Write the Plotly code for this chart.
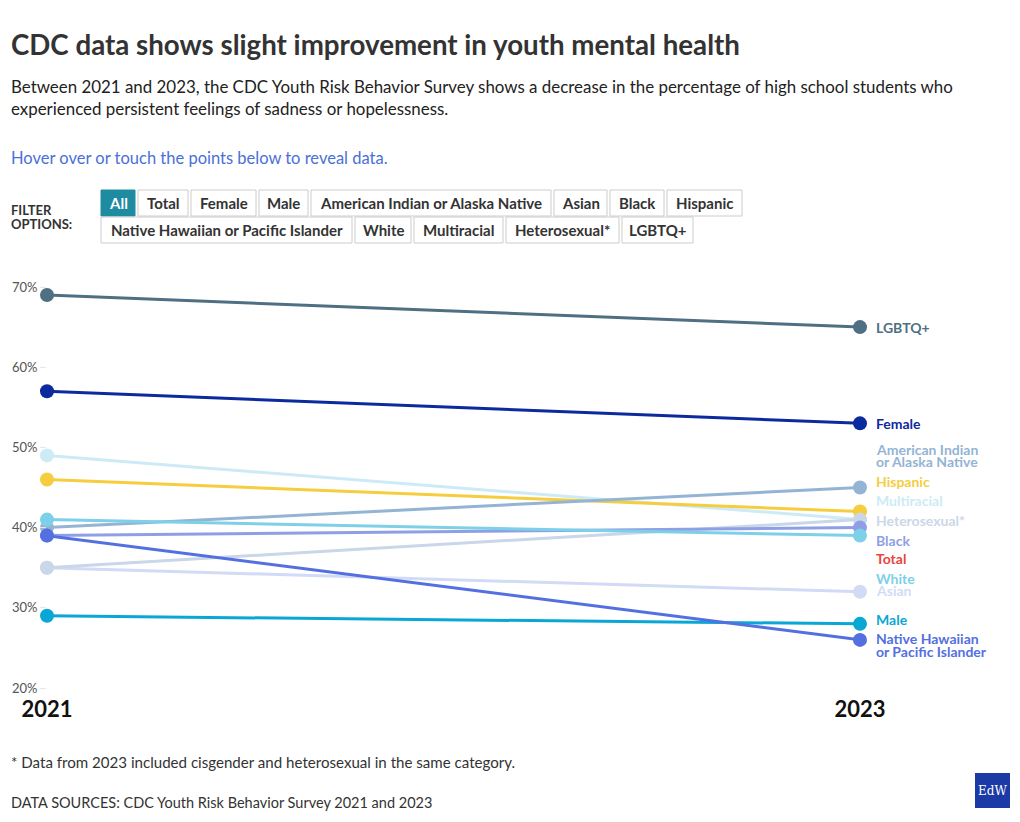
import plotly.graph_objects as go

years = [2021, 2023]
groups = ["LGBTQ+", "Female", "Multiracial", "Hispanic", "American Indian or Alaska Native",
          "Asian", "Heterosexual*", "Male", "Black", "White", "Native Hawaiian or Pacific Islander"]
v2021 = [69, 57, 49, 46, 40, 35, 35, 29, 39, 41, 39]
v2023 = [65, 53, 41, 42, 45, 32, 41, 28, 40, 39, 26]
colors = ["#4f6f82", "#0b2a9e", "#cdebf6", "#f5cd3f", "#94b4d4", "#d2dbf6", "#c9d7e8",
          "#0aa7d4", "#8e9fe6", "#7dd0e8", "#5470e0"]

total_label = "Total"
total_color = "#e8463c"

y_ticks = [20, 30, 40, 50, 60, 70]
y_ticktext = ["20%", "30%", "40%", "50%", "60%", "70%"]

# right-hand label layout: (text line, colour key, y position in data units)
label_lines = [
    ("LGBTQ+", "LGBTQ+", 65.0),
    ("Female", "Female", 53.0),
    ("American Indian", "American Indian or Alaska Native", 49.8),
    ("or Alaska Native", "American Indian or Alaska Native", 48.3),
    ("Hispanic", "Hispanic", 45.8),
    ("Multiracial", "Multiracial", 43.4),
    ("Heterosexual*", "Heterosexual*", 40.9),
    ("Black", "Black", 38.45),
    ("Total", "Total", 36.1),
    ("White", "White", 33.6),
    ("Asian", "Asian", 32.1),
    ("Male", "Male", 28.6),
    ("Native Hawaiian", "Native Hawaiian or Pacific Islander", 26.2),
    ("or Pacific Islander", "Native Hawaiian or Pacific Islander", 24.6),
]

buttons_row1 = ["All", "Total", "Female", "Male", "American Indian or Alaska Native", "Asian", "Black", "Hispanic"]
buttons_row2 = ["Native Hawaiian or Pacific Islander", "White", "Multiracial", "Heterosexual*", "LGBTQ+"]
row1_x = [(101, 135), (138, 188), (191, 256), (259, 308), (311, 551), (554, 607), (610, 664), (667, 742)]
row2_x = [(101, 352), (355, 411), (414, 503), (506, 619), (622, 693)]

FONT = "Lato"
OFF = 8  # page body margin
L, R, T, B = 47, 860, 287, 688  # plot area in page pixels
W, H = 1020 - 2 * OFF, 822 - 2 * OFF


def px(x):
    return (x - L) / (R - L)


def py(y):
    return (B - y) / (B - T)


fig = go.Figure()
for name, a, b, c in zip(groups, v2021, v2023, colors):
    fig.add_trace(go.Scatter(
        x=years, y=[a, b], mode="lines+markers", name=name,
        line=dict(color=c, width=3), marker=dict(color=c, size=14),
        cliponaxis=False, hovertemplate="%{y}%<extra>" + name + "</extra>"))

color_map = dict(zip(groups, colors))
color_map[total_label] = total_color
ann = []
for txt, key, yv in label_lines:
    ann.append(dict(x=2023, y=yv, xref="x", yref="y", xshift=14, xanchor="left", yanchor="middle",
                    text="<b>" + txt + "</b>", showarrow=False, align="left",
                    font=dict(family=FONT, size=14, color=color_map[key])))


def text(x, y, s, size, color, anchor="left"):
    ann.append(dict(x=px(x), y=py(y), xref="paper", yref="paper", xanchor=anchor, yanchor="middle",
                    xshift=-2 if anchor == "left" else 0,
                    text=s, showarrow=False, align="left", font=dict(family=FONT, size=size, color=color)))


text(11, 44, "<b>CDC data shows slight improvement in youth mental health</b>", 27.7, "#333333")
text(11, 86, "Between 2021 and 2023, the CDC Youth Risk Behavior Survey shows a decrease in the percentage of high school students who",
     16.9, "#222222")
text(11, 109, "experienced persistent feelings of sadness or hopelessness.", 16.9, "#222222")
text(11, 158, "Hover over or touch the points below to reveal data.", 16.5, "#4a70d8")
text(11, 210, "<b>FILTER</b>", 13, "#333333")
text(11, 224, "<b>OPTIONS:</b>", 13, "#333333")
text(11, 762, "* Data from 2023 included cisgender and heterosexual in the same category.", 15.1, "#333333")
text(11, 802, "DATA SOURCES: CDC Youth Risk Behavior Survey 2021 and 2023", 14.5, "#333333")

shapes = []


def add_buttons(names, xs, y0, y1):
    for nm, (x0, x1) in zip(names, xs):
        active = nm == "All"
        shapes.append(dict(type="rect", xref="paper", yref="paper", x0=px(x0), x1=px(x1), y0=py(y1), y1=py(y0),
                           line=dict(color="#1f8ba0" if active else "#cccccc", width=1),
                           fillcolor="#1f8ba0" if active else "#ffffff", layer="above"))
        text((x0 + x1) / 2, (y0 + y1) / 2, "<b>" + nm + "</b>", 15,
             "#ffffff" if active else "#333333", anchor="center")


add_buttons(buttons_row1, row1_x, 190, 216)
add_buttons(buttons_row2, row2_x, 217, 243)

# logo
shapes.append(dict(type="rect", xref="paper", yref="paper", x0=px(975), x1=px(1010), y0=py(808), y1=py(773),
                   line=dict(width=0), fillcolor="#1b3aa6"))
ann.append(dict(x=px(992.5), y=py(791), xref="paper", yref="paper", xanchor="center", yanchor="middle",
                text="EdW", showarrow=False, font=dict(family="DejaVu Serif", size=12, color="#ffffff")))

fig.update_layout(
    width=W, height=H,
    margin=dict(l=L - OFF, r=(OFF + W) - R, t=T - OFF, b=(OFF + H) - B),
    paper_bgcolor="#ffffff", plot_bgcolor="#ffffff", showlegend=False,
    annotations=ann, shapes=shapes,
    xaxis=dict(range=[2021, 2023], tickvals=years, ticktext=["<b>2021</b>", "<b>2023</b>"],
               showgrid=True, gridcolor="#ebebeb", zeroline=False, showline=False, ticks="",
               tickfont=dict(family=FONT, size=22, color="#111111"), ticklabelstandoff=6,
               automargin=False),
    yaxis=dict(range=[20, 70], tickvals=y_ticks, ticktext=y_ticktext, showgrid=False,
               zeroline=False, showline=False, ticks="outside", ticklen=6, tickcolor="#e6e6e6",
               tickfont=dict(family=FONT, size=13, color="#555555"), automargin=False),
    hovermode="closest",
)

fig.write_html("out.html")
